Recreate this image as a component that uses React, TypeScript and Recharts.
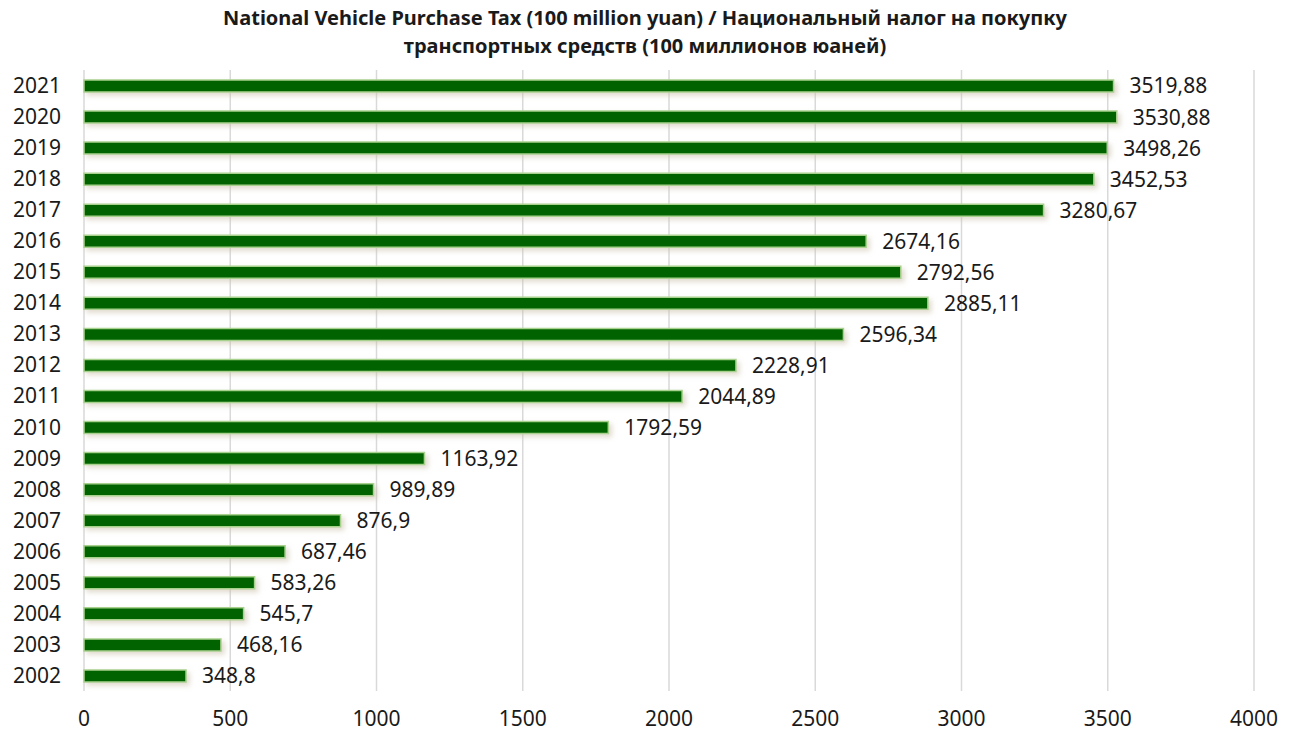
import React from "react";
import {
  BarChart,
  Bar,
  XAxis,
  YAxis,
  CartesianGrid,
  LabelList,
} from "recharts";

const years = [
  "2002", "2003", "2004", "2005", "2006", "2007", "2008", "2009", "2010", "2011",
  "2012", "2013", "2014", "2015", "2016", "2017", "2018", "2019", "2020", "2021",
];

const taxValues = [
  348.8, 468.16, 545.7, 583.26, 687.46, 876.9, 989.89, 1163.92, 1792.59, 2044.89,
  2228.91, 2596.34, 2885.11, 2792.56, 2674.16, 3280.67, 3452.53, 3498.26, 3530.88, 3519.88,
];

const xTicks = [0, 500, 1000, 1500, 2000, 2500, 3000, 3500, 4000];

const titleLines = [
  "National Vehicle Purchase Tax (100 million yuan) / Национальный налог на покупку",
  "транспортных средств (100 миллионов юаней)",
];

const data = years.map((year, i) => ({ year, value: taxValues[i] }));

const font = "'Noto Sans', 'Open Sans', sans-serif";

const fmt = (v: any) => String(v).replace(".", ",");

const App = () => {
  return (
    <div
      style={{
        position: "absolute",
        left: 0,
        top: 0,
        width: 1290,
        height: 731,
        background: "#fff",
        fontFamily: font,
      }}
    >
      <div
        style={{
          position: "absolute",
          top: 4,
          left: 0,
          width: 1290,
          textAlign: "center",
          fontWeight: 700,
          fontSize: 20,
          lineHeight: "28px",
          color: "#1a1a1a",
        }}
      >
        {titleLines.map((t) => (
          <div key={t}>{t}</div>
        ))}
      </div>
      <BarChart
        width={1290}
        height={731}
        data={data}
        layout="vertical"
        margin={{ top: 70, right: 36, left: 0, bottom: 10 }}
        barCategoryGap={0}
      >
        <defs>
          <filter id="glow" x="-5%" y="-60%" width="115%" height="260%">
            <feDropShadow dx="3" dy="3" stdDeviation="2.5" floodColor="#c9bfa8" floodOpacity="0.55" />
          </filter>
        </defs>
        <CartesianGrid horizontal={false} stroke="#d9d9d9" strokeWidth={1.5} />
        <XAxis
          type="number"
          domain={[0, 4000]}
          ticks={xTicks}
          axisLine={false}
          tickLine={false}
          tickMargin={14}
          height={30}
          tick={{ fill: "#1a1a1a", fontSize: 21, fontFamily: font }}
        />
        <YAxis
          type="category"
          dataKey="year"
          reversed
          width={84}
          axisLine={false}
          tickLine={false}
          tickMargin={17}
          interval={0}
          tick={{ fill: "#1a1a1a", fontSize: 21, fontFamily: font }}
        />
        <Bar
          dataKey="value"
          barSize={12}
          fill="#006400"
          stroke="#a9d18e"
          strokeWidth={1.5}
          filter="url(#glow)"
          isAnimationActive={false}
        >
          <LabelList
            dataKey="value"
            position="right"
            offset={16}
            formatter={fmt}
            style={{ fill: "#1a1a1a", fontSize: 21, fontFamily: font }}
          />
        </Bar>
      </BarChart>
    </div>
  );
};

export default App;
